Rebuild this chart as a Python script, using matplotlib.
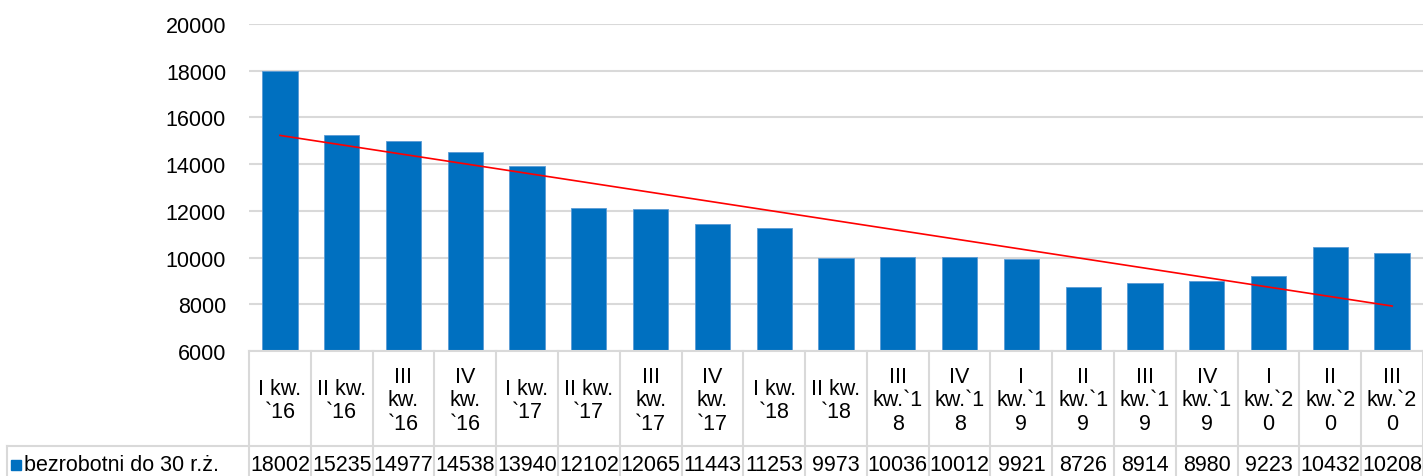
import matplotlib

matplotlib.use("Agg")
import matplotlib.pyplot as plt
import numpy as np
from matplotlib.transforms import blended_transform_factory

CATEGORIES = [
    "I kw.\n`16", "II kw.\n`16", "III\nkw.\n`16", "IV\nkw.\n`16",
    "I kw.\n`17", "II kw.\n`17", "III\nkw.\n`17", "IV\nkw.\n`17",
    "I kw.\n`18", "II kw.\n`18", "III\nkw.`1\n8", "IV\nkw.`1\n8",
    "I\nkw.`1\n9", "II\nkw.`1\n9", "III\nkw.`1\n9", "IV\nkw.`1\n9",
    "I\nkw.`2\n0", "II\nkw.`2\n0", "III\nkw.`2\n0",
]
VALUES = [18002, 15235, 14977, 14538, 13940, 12102, 12065, 11443, 11253, 9973,
          10036, 10012, 9921, 8726, 8914, 8980, 9223, 10432, 10208]
SERIES_NAME = "bezrobotni do 30 r.ż."
Y_TICKS = [6000, 8000, 10000, 12000, 14000, 16000, 18000, 20000]

BAR_COLOR = "#0070c0"
GRID_COLOR = "#d9d9d9"
TEXT = "#000000"
W, H = 1423, 477
FS = 15.5

plt.rcParams["font.family"] = ["Liberation Sans", "DejaVu Sans"]

fig = plt.figure(figsize=(W / 100, H / 100), dpi=100)
left, right, top, bottom = 249, 1423, 25, 352
ax = fig.add_axes([left / W, 1 - bottom / H, (right - left) / W, (bottom - top) / H])

x = np.arange(len(VALUES))
ax.bar(x, VALUES, width=0.57, color=BAR_COLOR, edgecolor="#5b9bd5", linewidth=0.6, zorder=2)

# linear trend line like excel's
coef = np.polyfit(x, VALUES, 1)
ax.plot(x[[0, -1]], np.polyval(coef, x[[0, -1]]), color="#ff0000", linewidth=1.2, zorder=3)

ax.set_xlim(-0.5, len(VALUES) - 0.5)
ax.set_ylim(Y_TICKS[0], Y_TICKS[-1])
ax.set_yticks(Y_TICKS)
ax.set_xticks([])
ax.tick_params(axis="y", length=0, pad=16.5, labelsize=FS, labelcolor=TEXT)
ax.grid(axis="y", color=GRID_COLOR, linewidth=1.5)
ax.set_axisbelow(True)
for s in ("top", "right", "left"):
    ax.spines[s].set_visible(False)
ax.spines["bottom"].set_color(GRID_COLOR)
ax.spines["bottom"].set_linewidth(1.5)

# data table under the axes
ph = bottom - top
def ay(py):
    return (bottom - py) / ph

tr = blended_transform_factory(ax.transData, ax.transAxes)
row_line = 447
for i in range(len(VALUES) + 1):
    ax.plot([i - 0.5, i - 0.5], [0, ay(H)], transform=tr, color=GRID_COLOR,
            linewidth=1.5, clip_on=False)
for i, (lab, v) in enumerate(zip(CATEGORIES, VALUES)):
    ax.text(i, ay(401), lab, transform=tr, ha="center", va="center",
            fontsize=FS, linespacing=1.15, color=TEXT)
    ax.text(i, ay(466), str(v), transform=tr, ha="center", va="center",
            fontsize=FS, color=TEXT)

fig.add_artist(plt.Line2D([7 / W, right / W], [1 - row_line / H] * 2,
                          color=GRID_COLOR, linewidth=1.5))
fig.add_artist(plt.Line2D([7 / W, 7 / W], [1 - row_line / H, 0],
                          color=GRID_COLOR, linewidth=1.5))
fig.add_artist(plt.Rectangle((11 / W, 1 - 471 / H), 10 / W, 10 / H,
                             color=BAR_COLOR, transform=fig.transFigure))
fig.text(24 / W, 1 - 466 / H, SERIES_NAME, ha="left", va="center",
         fontsize=FS, color=TEXT)

fig.savefig("out.png", dpi=100, facecolor="white")
